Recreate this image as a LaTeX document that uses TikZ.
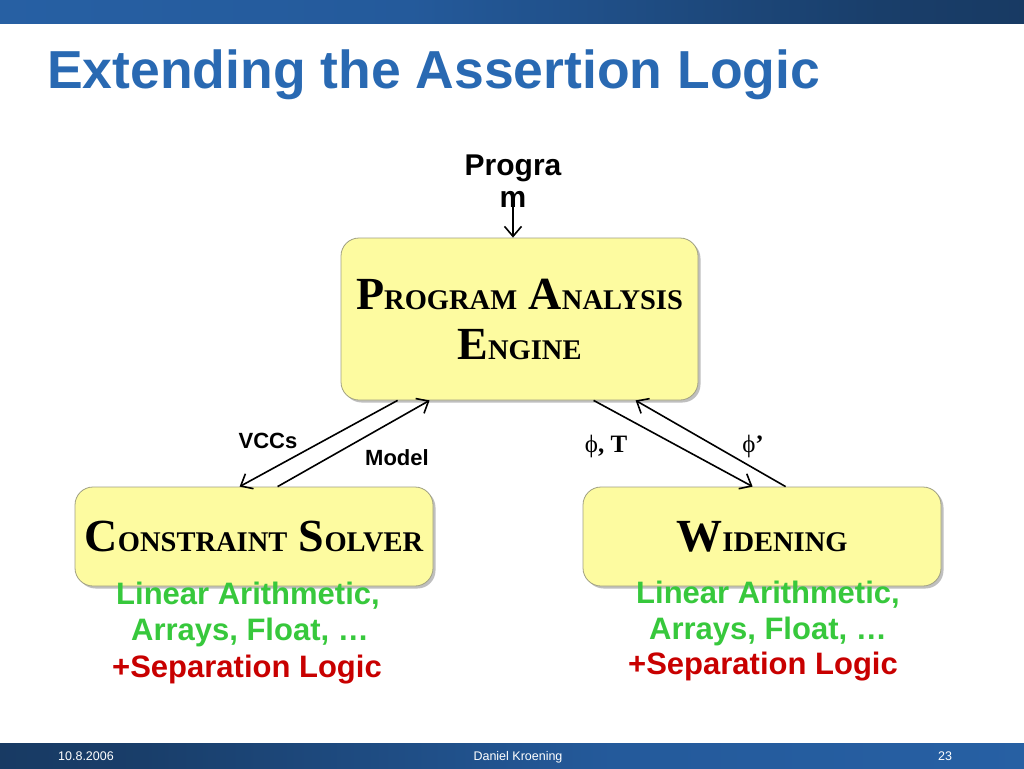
\documentclass[tikz,border=0pt]{standalone}
\usepackage{fontspec}
\setmainfont{Liberation Sans}
\newfontfamily\timesfont{Liberation Serif}
\usetikzlibrary{positioning,arrows.meta,shadows}

\definecolor{barblue}{RGB}{42,103,174}
\definecolor{barmid}{RGB}{36,90,155}
\definecolor{bardark}{RGB}{25,62,106}
\definecolor{bardeep}{RGB}{20,44,75}
\definecolor{titleblue}{RGB}{41,105,178}
\definecolor{boxfill}{RGB}{253,251,160}
\definecolor{boxedge}{RGB}{160,160,130}
\definecolor{theorygreen}{RGB}{55,200,60}
\definecolor{sepred}{RGB}{200,0,0}

\pgfdeclarehorizontalshading{topbar}{100bp}{color(0bp)=(barblue); color(45bp)=(barmid); color(68bp)=(bardark); color(100bp)=(bardeep)}
\pgfdeclarehorizontalshading{footbar}{100bp}{color(0bp)=(bardeep); color(32bp)=(bardark); color(55bp)=(barmid); color(100bp)=(barblue)}

% fake small caps: big initial, smaller capitals
\newcommand{\capsc}[2]{{\fontsize{46}{50}\selectfont #1}{\fontsize{28.5}{50}\selectfont #2}}
\newcommand{\uphi}{{\mdseries\symbol{"03D5}}}

\begin{document}
\begin{tikzpicture}[x=1pt,y=-1pt,
    box/.style={draw=boxedge, fill=boxfill, line width=0.8pt, rounded corners=18pt,
        drop shadow={shadow xshift=2.5pt, shadow yshift=-2.5pt, fill=black, opacity=0.25},
        font=\timesfont\bfseries\fontsize{46}{50}\selectfont, align=center},
    flow/.style={line width=1.6pt, -{Straight Barb[length=10pt,width=17pt,line width=1.6pt]}},
    lbl/.style={anchor=base, inner sep=0pt, font=\bfseries\fontsize{22}{22}\selectfont},
    glbl/.style={anchor=base, inner sep=0pt, font=\timesfont\bfseries\fontsize{25}{25}\selectfont},
    theory/.style={anchor=base, inner sep=0pt, text=theorygreen, font=\bfseries\fontsize{31}{31}\selectfont},
    sep/.style={anchor=base, inner sep=0pt, text=sepred, font=\bfseries\fontsize{31}{31}\selectfont},
    foot/.style={text=white, inner sep=0pt, font=\fontsize{12.5}{12.5}\selectfont}]
    \useasboundingbox (0,0) rectangle (1024,768);

    \shade[shading=topbar] (0,0) rectangle (1024,24);
    \shade[shading=footbar] (0,743) rectangle (1024,768);

    \node[anchor=base west, inner sep=0pt, text=titleblue,
        font=\bfseries\fontsize{53.5}{53.5}\selectfont] (title) at (47,88)
        {Extending the Assertion Logic};

    \node[align=center, inner sep=0pt, font=\bfseries\fontsize{30}{32}\selectfont]
        (prog) at (513,181) {Progra\\m};

    \node[box, minimum width=357pt, minimum height=162pt] (eng) at (519.5,319)
        {\capsc{P}{ROGRAM} \capsc{A}{NALYSIS}\\\capsc{E}{NGINE}};
    \node[box, minimum width=358pt, minimum height=99pt] (solv) at (254,536.5)
        {\capsc{C}{ONSTRAINT} \capsc{S}{OLVER}};
    \node[box, minimum width=358pt, minimum height=99pt] (wid) at (762,536.5)
        {\capsc{W}{IDENING}};

    \node[theory] (solvA) at (248,604) {Linear Arithmetic,};
    \node[theory] (solvB) at (250,640) {Arrays, Float, \dots};
    \node[sep] (solvC) at (247,677) {+Separation Logic};
    \node[theory] (widA) at (768,603) {Linear Arithmetic,};
    \node[theory] (widB) at (768,639) {Arrays, Float, \dots};
    \node[sep] (widC) at (763,674) {+Separation Logic};

    \node[lbl] (vccs) at (268,448) {VCCs};
    \node[lbl] (model) at (397,465) {Model};
    \node[glbl] (phiT) at (606,452) {\uphi, T};
    \node[glbl] (phiP) at (753,452) {\uphi’};

    \draw[flow] ([yshift=10pt]prog.south) -- (prog.south |- eng.north);
    \draw[flow] ([xshift=57pt]eng.south west) -- ([xshift=165pt]solv.north west);
    \draw[flow] ([xshift=203pt]solv.north west) -- ([xshift=89pt]eng.south west);
    \draw[flow] ([xshift=253pt]eng.south west) -- ([xshift=170pt]wid.north west);
    \draw[flow] ([xshift=203pt]wid.north west) -- ([xshift=295pt]eng.south west);

    \node[foot] (date) at (86,756) {10.8.2006};
    \node[foot] (author) at (518,757) {Daniel Kroening};
    \node[foot] (page) at (945,756) {23};
\end{tikzpicture}
\end{document}
